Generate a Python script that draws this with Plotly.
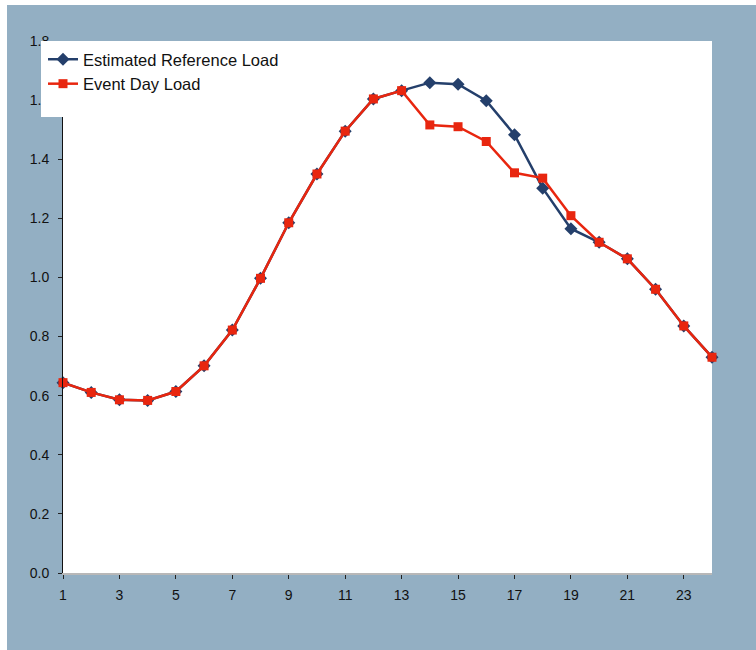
import plotly.graph_objects as go

hours = list(range(1, 25))
ref_load = [0.644, 0.611, 0.586, 0.584, 0.614, 0.701, 0.822, 0.997, 1.185, 1.350,
            1.495, 1.604, 1.632, 1.659, 1.654, 1.598, 1.483, 1.302, 1.165, 1.119,
            1.063, 0.960, 0.836, 0.730]
event_load = [0.644, 0.611, 0.586, 0.584, 0.614, 0.701, 0.822, 0.997, 1.185, 1.350,
              1.495, 1.604, 1.632, 1.516, 1.510, 1.460, 1.354, 1.336, 1.209, 1.119,
              1.063, 0.960, 0.836, 0.730]
x_ticks = [1, 3, 5, 7, 9, 11, 13, 15, 17, 19, 21, 23]
y_ticks = [0.0, 0.2, 0.4, 0.6, 0.8, 1.0, 1.2, 1.4, 1.6, 1.8]

NAVY = "#243f6b"
RED = "#e8260f"
BG = "#93afc3"

fig = go.Figure()
fig.add_trace(go.Scatter(
    x=hours, y=ref_load, mode="lines+markers", name="Estimated Reference Load",
    line=dict(color=NAVY, width=2.5),
    marker=dict(symbol="diamond", size=10, color=NAVY),
    cliponaxis=False,
))
fig.add_trace(go.Scatter(
    x=hours, y=event_load, mode="lines+markers", name="Event Day Load",
    line=dict(color=RED, width=2.5),
    marker=dict(symbol="square", size=9, color=RED),
    cliponaxis=False,
))

L, R, T, B = 63, 44, 41, 77
W, H = 756, 650
pw, ph = W - L - R, H - T - B

def px_x(p):
    return (p - L) / pw

def px_y(p):
    return (H - B - p) / ph

fig.update_layout(
    width=W, height=H,
    margin=dict(l=L, r=R, t=T, b=B, pad=0),
    paper_bgcolor=BG,
    plot_bgcolor="white",
    font=dict(family="Liberation Sans, Arial, sans-serif", color="#111111"),
    showlegend=True,
    legend=dict(
        x=px_x(43), y=px_y(42), xanchor="left", yanchor="top",
        bgcolor="rgba(0,0,0,0)", borderwidth=0,
        font=dict(size=16.5, color="#111111"),
    ),
    shapes=[
        dict(type="rect", xref="paper", yref="paper", layer="below",
             x0=px_x(-5), x1=px_x(7), y0=px_y(-5), y1=px_y(H + 5),
             fillcolor="white", line=dict(width=0)),
        dict(type="rect", xref="paper", yref="paper", layer="below",
             x0=px_x(-5), x1=px_x(W + 5), y0=px_y(-5), y1=px_y(5),
             fillcolor="white", line=dict(width=0)),
        dict(type="rect", xref="paper", yref="paper", layer="above",
             x0=px_x(41), x1=px_x(292), y0=px_y(117), y1=px_y(41),
             fillcolor="white", line=dict(width=0)),
    ],
)
fig.update_xaxes(
    range=[1, 24], tickvals=x_ticks, ticktext=[str(v) for v in x_ticks],
    showgrid=False, zeroline=False,
    showline=True, linecolor="#b8b8b8", linewidth=2,
    ticks="outside", ticklen=4, tickcolor="#222222", tickwidth=1,
    ticklabelstandoff=4,
    tickfont=dict(size=14, color="#111111"),
)
fig.update_yaxes(
    range=[0, 1.8], tickvals=y_ticks, ticktext=[f"{v:.1f}" for v in y_ticks],
    showgrid=False, zeroline=False,
    showline=True, linecolor="#111111", linewidth=1,
    ticks="outside", ticklen=4, tickcolor="#222222", tickwidth=1,
    ticklabelstandoff=6,
    tickfont=dict(size=14, color="#111111"),
)

fig.write_html("out.html")
